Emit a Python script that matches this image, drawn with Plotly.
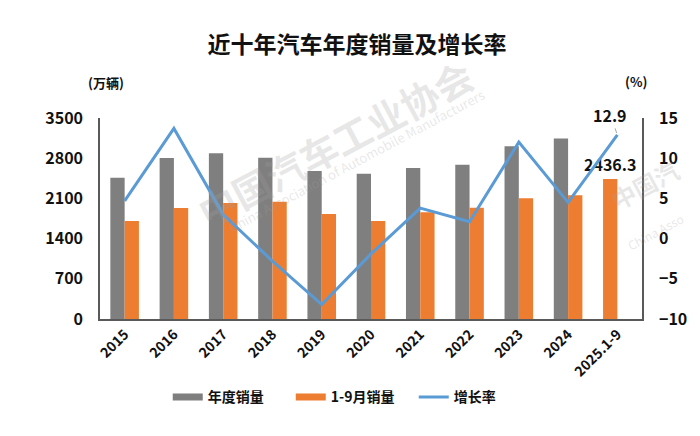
import plotly.graph_objects as go

categories = ["2015", "2016", "2017", "2018", "2019", "2020", "2021", "2022", "2023", "2024", "2025.1-9"]
annual_sales = [2459.8, 2802.8, 2887.9, 2808.1, 2576.9, 2531.1, 2627.5, 2686.4, 3009.4, 3143.6, None]
jan_sep_sales = [1706, 1935, 2020, 2043, 1830, 1706, 1860, 1938, 2103, 2155, 2436.3]
growth_rate = [4.7, 13.7, 3.0, -2.8, -8.2, -1.9, 3.8, 2.1, 12.0, 4.5, 12.9]

GRAY = "#7F7F7F"
ORANGE = "#ED7D31"
BLUE = "#5B9BD5"
FONT = "Noto Sans CJK SC"
WM = "rgba(160,160,160,0.25)"

# The reference draws the 2025 Jan-Sep value in the first bar slot (orange)
first_slot = [a if a is not None else j for a, j in zip(annual_sales, jan_sep_sales)]
first_colors = [GRAY if a is not None else ORANGE for a in annual_sales]
second_slot = [j if a is not None else None for a, j in zip(annual_sales, jan_sep_sales)]
first_text = ["" if a is not None else f"{j:.1f}" for a, j in zip(annual_sales, jan_sep_sales)]

fig = go.Figure()
fig.add_trace(go.Bar(x=categories, y=first_slot, marker_color=first_colors, marker_line_width=0,
                     text=first_text, textposition="outside", constraintext="none", cliponaxis=False,
                     textfont=dict(family=FONT, size=16, color="#111", weight="bold"),
                     showlegend=False, name="年度销量"))
fig.add_trace(go.Bar(x=categories, y=second_slot, marker_color=ORANGE, marker_line_width=0,
                     showlegend=False, name="1-9月销量"))
fig.add_trace(go.Scatter(x=categories, y=growth_rate, yaxis="y2", mode="lines",
                         line=dict(color=BLUE, width=3), showlegend=False, name="增长率",
                         cliponaxis=False))

# legend entries (wide swatches as in the reference)
fig.add_trace(go.Scatter(x=[None], y=[None], mode="lines", line=dict(color=GRAY, width=7), name="年度销量"))
fig.add_trace(go.Scatter(x=[None], y=[None], mode="lines", line=dict(color=ORANGE, width=7), name="1-9月销量"))
fig.add_trace(go.Scatter(x=[None], y=[None], mode="lines", line=dict(color=BLUE, width=3), name="增长率"))

tickfont = dict(family=FONT, size=16, color="#111", weight="bold")

fig.update_layout(
    width=700, height=436,
    margin=dict(l=100, r=58, t=118, b=117),
    paper_bgcolor="white", plot_bgcolor="white",
    barmode="group", bargap=0.42, bargroupgap=0,
    title=dict(text="近十年汽车年度销量及增长率", x=0.51, xanchor="center", y=0.897, yanchor="middle",
               font=dict(family=FONT, size=23, color="#111", weight="bold")),
    xaxis=dict(type="category", tickangle=-45, tickfont=dict(family=FONT, size=14, color="#111", weight="bold"),
               showline=True, linecolor="#595959", linewidth=1.5, ticks="", showgrid=False),
    yaxis=dict(range=[0, 3500], dtick=700, tickfont=tickfont, showline=True, linecolor="#595959",
               linewidth=1.5, showgrid=False, zeroline=False, ticks="", ticklabelstandoff=12),
    yaxis2=dict(range=[-10, 15], dtick=5, overlaying="y", side="right", tickfont=tickfont, showline=True,
                linecolor="#595959", linewidth=1.5, showgrid=False, zeroline=False, ticks="",
                ticklabelstandoff=12),
    legend=dict(orientation="h", x=0.125, xanchor="left", y=-0.39, yanchor="middle",
                font=dict(family=FONT, size=14, color="#111", weight="bold"),
                entrywidth=78, itemwidth=30, bgcolor="rgba(0,0,0,0)"),
    annotations=[
        # faint watermarks
        dict(text="中国汽车工业协会", xref="paper", yref="paper", x=0.434, y=0.876, xanchor="center",
             yanchor="middle", textangle=-28, showarrow=False,
             font=dict(family=FONT, size=38, color=WM, weight="bold")),
        dict(text="China Association of Automobile Manufacturers", xref="paper", yref="paper", x=0.474, y=0.79,
             xanchor="center", yanchor="middle", textangle=-28, showarrow=False,
             font=dict(family=FONT, size=13, color=WM)),
        dict(text="中国汽", xref="paper", yref="paper", x=1.005, y=0.667, textangle=-28, xanchor="center",
             yanchor="middle", showarrow=False, font=dict(family=FONT, size=24, color=WM, weight="bold")),
        dict(text="China Asso", xref="paper", yref="paper", x=1.025, y=0.433, textangle=-28, xanchor="center",
             yanchor="middle", showarrow=False, font=dict(family=FONT, size=12, color=WM)),
        dict(text="(万辆)", xref="paper", yref="paper", x=0.011, y=1.175, xanchor="center", yanchor="middle",
             showarrow=False, font=dict(family=FONT, size=13, color="#111", weight="bold")),
        dict(text="(%)", xref="paper", yref="paper", x=0.989, y=1.18, xanchor="center", yanchor="middle",
             showarrow=False, font=dict(family=FONT, size=13, color="#111", weight="bold")),
        dict(text=f"{growth_rate[-1]}", x=categories[-1], y=growth_rate[-1], xref="x", yref="y2",
             showarrow=True, arrowhead=0, arrowcolor="#A6A6A6", arrowwidth=1, ax=-7, ay=-20,
             standoff=2, font=dict(family=FONT, size=16, color="#111", weight="bold")),
    ],
)

fig.write_html("out.html")
